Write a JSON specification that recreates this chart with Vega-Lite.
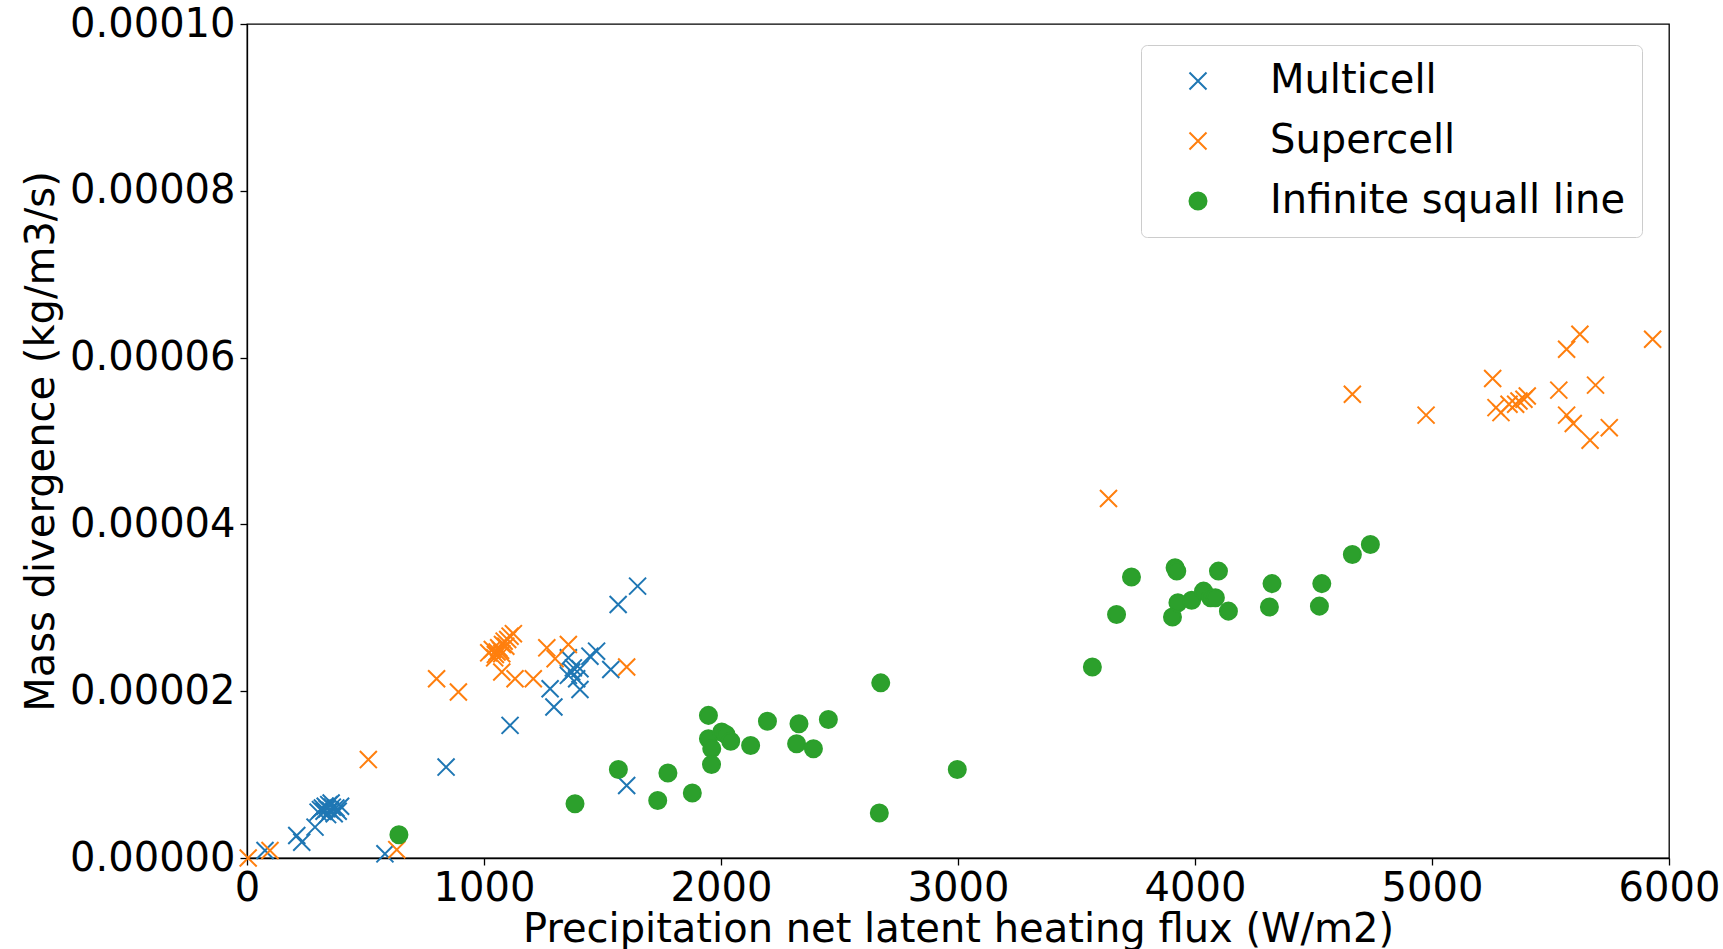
{
  "$schema": "https://vega.github.io/schema/vega-lite/v6.json",
  "width": 1422,
  "height": 834,
  "autosize": {"type": "none"},
  "padding": {"left": 247, "top": 24, "right": 54, "bottom": 91},
  "background": "white",
  "config": {
    "font": "DejaVu Sans",
    "view": {"stroke": "black", "strokeWidth": 1.3},
    "axis": {
      "grid": false,
      "domainColor": "black",
      "domainWidth": 1.3,
      "tickColor": "black",
      "tickSize": 7,
      "tickWidth": 1.3,
      "labelFont": "DejaVu Sans",
      "labelFontSize": 40,
      "labelColor": "black",
      "titleFont": "DejaVu Sans",
      "titleFontSize": 40,
      "titleFontWeight": "normal",
      "titleColor": "black"
    }
  },
  "data": {
    "values": [
      {"type": "Multicell", "flux": 76, "div": 9e-7},
      {"type": "Multicell", "flux": 210, "div": 2.7e-6},
      {"type": "Multicell", "flux": 231, "div": 1.9e-6},
      {"type": "Multicell", "flux": 287, "div": 3.7e-6},
      {"type": "Multicell", "flux": 300, "div": 5.5e-6},
      {"type": "Multicell", "flux": 310, "div": 5.8e-6},
      {"type": "Multicell", "flux": 318, "div": 6.0e-6},
      {"type": "Multicell", "flux": 325, "div": 5.6e-6},
      {"type": "Multicell", "flux": 330, "div": 6.2e-6},
      {"type": "Multicell", "flux": 338, "div": 5.9e-6},
      {"type": "Multicell", "flux": 340, "div": 5.2e-6},
      {"type": "Multicell", "flux": 345, "div": 6.4e-6},
      {"type": "Multicell", "flux": 352, "div": 5.7e-6},
      {"type": "Multicell", "flux": 355, "div": 6.6e-6},
      {"type": "Multicell", "flux": 360, "div": 6.1e-6},
      {"type": "Multicell", "flux": 368, "div": 5.3e-6},
      {"type": "Multicell", "flux": 375, "div": 6.0e-6},
      {"type": "Multicell", "flux": 385, "div": 5.6e-6},
      {"type": "Multicell", "flux": 395, "div": 6.2e-6},
      {"type": "Multicell", "flux": 582, "div": 5e-7},
      {"type": "Multicell", "flux": 840, "div": 1.09e-5},
      {"type": "Multicell", "flux": 1110, "div": 1.59e-5},
      {"type": "Multicell", "flux": 1295, "div": 1.81e-5},
      {"type": "Multicell", "flux": 1279, "div": 2.03e-5},
      {"type": "Multicell", "flux": 1405, "div": 2.02e-5},
      {"type": "Multicell", "flux": 1356, "div": 2.40e-5},
      {"type": "Multicell", "flux": 1377, "div": 2.28e-5},
      {"type": "Multicell", "flux": 1405, "div": 2.27e-5},
      {"type": "Multicell", "flux": 1356, "div": 2.19e-5},
      {"type": "Multicell", "flux": 1370, "div": 2.23e-5},
      {"type": "Multicell", "flux": 1391, "div": 2.15e-5},
      {"type": "Multicell", "flux": 1447, "div": 2.42e-5},
      {"type": "Multicell", "flux": 1475, "div": 2.48e-5},
      {"type": "Multicell", "flux": 1535, "div": 2.26e-5},
      {"type": "Multicell", "flux": 1602, "div": 8.7e-6},
      {"type": "Multicell", "flux": 1566, "div": 3.04e-5},
      {"type": "Multicell", "flux": 1648, "div": 3.26e-5},
      {"type": "Supercell", "flux": 5, "div": 0},
      {"type": "Supercell", "flux": 97, "div": 9e-7},
      {"type": "Supercell", "flux": 512, "div": 1.18e-5},
      {"type": "Supercell", "flux": 632, "div": 1.0e-6},
      {"type": "Supercell", "flux": 800, "div": 2.15e-5},
      {"type": "Supercell", "flux": 892, "div": 1.99e-5},
      {"type": "Supercell", "flux": 1020, "div": 2.46e-5},
      {"type": "Supercell", "flux": 1035, "div": 2.50e-5},
      {"type": "Supercell", "flux": 1045, "div": 2.40e-5},
      {"type": "Supercell", "flux": 1048, "div": 2.44e-5},
      {"type": "Supercell", "flux": 1055, "div": 2.47e-5},
      {"type": "Supercell", "flux": 1062, "div": 2.52e-5},
      {"type": "Supercell", "flux": 1070, "div": 2.49e-5},
      {"type": "Supercell", "flux": 1075, "div": 2.45e-5},
      {"type": "Supercell", "flux": 1078, "div": 2.56e-5},
      {"type": "Supercell", "flux": 1085, "div": 2.60e-5},
      {"type": "Supercell", "flux": 1092, "div": 2.54e-5},
      {"type": "Supercell", "flux": 1100, "div": 2.62e-5},
      {"type": "Supercell", "flux": 1110, "div": 2.66e-5},
      {"type": "Supercell", "flux": 1124, "div": 2.69e-5},
      {"type": "Supercell", "flux": 1075, "div": 2.23e-5},
      {"type": "Supercell", "flux": 1131, "div": 2.15e-5},
      {"type": "Supercell", "flux": 1208, "div": 2.15e-5},
      {"type": "Supercell", "flux": 1265, "div": 2.52e-5},
      {"type": "Supercell", "flux": 1300, "div": 2.39e-5},
      {"type": "Supercell", "flux": 1356, "div": 2.56e-5},
      {"type": "Supercell", "flux": 1602, "div": 2.29e-5},
      {"type": "Supercell", "flux": 3635, "div": 4.31e-5},
      {"type": "Supercell", "flux": 4664, "div": 5.56e-5},
      {"type": "Supercell", "flux": 4975, "div": 5.31e-5},
      {"type": "Supercell", "flux": 5256, "div": 5.75e-5},
      {"type": "Supercell", "flux": 5270, "div": 5.40e-5},
      {"type": "Supercell", "flux": 5291, "div": 5.34e-5},
      {"type": "Supercell", "flux": 5325, "div": 5.44e-5},
      {"type": "Supercell", "flux": 5353, "div": 5.44e-5},
      {"type": "Supercell", "flux": 5367, "div": 5.48e-5},
      {"type": "Supercell", "flux": 5388, "div": 5.50e-5},
      {"type": "Supercell", "flux": 5402, "div": 5.54e-5},
      {"type": "Supercell", "flux": 5535, "div": 5.61e-5},
      {"type": "Supercell", "flux": 5568, "div": 6.10e-5},
      {"type": "Supercell", "flux": 5624, "div": 6.28e-5},
      {"type": "Supercell", "flux": 5568, "div": 5.31e-5},
      {"type": "Supercell", "flux": 5596, "div": 5.21e-5},
      {"type": "Supercell", "flux": 5667, "div": 5.01e-5},
      {"type": "Supercell", "flux": 5690, "div": 5.67e-5},
      {"type": "Supercell", "flux": 5748, "div": 5.16e-5},
      {"type": "Supercell", "flux": 5931, "div": 6.22e-5},
      {"type": "Infinite squall line", "flux": 641, "div": 2.8e-6},
      {"type": "Infinite squall line", "flux": 1384, "div": 6.5e-6},
      {"type": "Infinite squall line", "flux": 1567, "div": 1.06e-5},
      {"type": "Infinite squall line", "flux": 1733, "div": 6.9e-6},
      {"type": "Infinite squall line", "flux": 1776, "div": 1.02e-5},
      {"type": "Infinite squall line", "flux": 1879, "div": 7.8e-6},
      {"type": "Infinite squall line", "flux": 1947, "div": 1.71e-5},
      {"type": "Infinite squall line", "flux": 1947, "div": 1.43e-5},
      {"type": "Infinite squall line", "flux": 1961, "div": 1.31e-5},
      {"type": "Infinite squall line", "flux": 1960, "div": 1.12e-5},
      {"type": "Infinite squall line", "flux": 2003, "div": 1.51e-5},
      {"type": "Infinite squall line", "flux": 2021, "div": 1.48e-5},
      {"type": "Infinite squall line", "flux": 2041, "div": 1.40e-5},
      {"type": "Infinite squall line", "flux": 2125, "div": 1.35e-5},
      {"type": "Infinite squall line", "flux": 2196, "div": 1.64e-5},
      {"type": "Infinite squall line", "flux": 2319, "div": 1.37e-5},
      {"type": "Infinite squall line", "flux": 2329, "div": 1.61e-5},
      {"type": "Infinite squall line", "flux": 2390, "div": 1.31e-5},
      {"type": "Infinite squall line", "flux": 2453, "div": 1.66e-5},
      {"type": "Infinite squall line", "flux": 2668, "div": 5.4e-6},
      {"type": "Infinite squall line", "flux": 2674, "div": 2.10e-5},
      {"type": "Infinite squall line", "flux": 2997, "div": 1.06e-5},
      {"type": "Infinite squall line", "flux": 3567, "div": 2.29e-5},
      {"type": "Infinite squall line", "flux": 3669, "div": 2.92e-5},
      {"type": "Infinite squall line", "flux": 3732, "div": 3.37e-5},
      {"type": "Infinite squall line", "flux": 3905, "div": 2.89e-5},
      {"type": "Infinite squall line", "flux": 3916, "div": 3.48e-5},
      {"type": "Infinite squall line", "flux": 3923, "div": 3.44e-5},
      {"type": "Infinite squall line", "flux": 3928, "div": 3.06e-5},
      {"type": "Infinite squall line", "flux": 3986, "div": 3.09e-5},
      {"type": "Infinite squall line", "flux": 4036, "div": 3.20e-5},
      {"type": "Infinite squall line", "flux": 4066, "div": 3.12e-5},
      {"type": "Infinite squall line", "flux": 4086, "div": 3.12e-5},
      {"type": "Infinite squall line", "flux": 4099, "div": 3.44e-5},
      {"type": "Infinite squall line", "flux": 4141, "div": 2.96e-5},
      {"type": "Infinite squall line", "flux": 4314, "div": 3.01e-5},
      {"type": "Infinite squall line", "flux": 4325, "div": 3.29e-5},
      {"type": "Infinite squall line", "flux": 4525, "div": 3.02e-5},
      {"type": "Infinite squall line", "flux": 4535, "div": 3.29e-5},
      {"type": "Infinite squall line", "flux": 4664, "div": 3.64e-5},
      {"type": "Infinite squall line", "flux": 4740, "div": 3.76e-5}
    ]
  },
  "mark": {"type": "point", "filled": true, "strokeWidth": 2, "opacity": 1},
  "encoding": {
    "x": {
      "field": "flux",
      "type": "quantitative",
      "scale": {"domain": [0, 6000], "nice": false, "zero": false},
      "axis": {
        "title": "Precipitation net latent heating flux (W/m2)",
        "values": [0, 1000, 2000, 3000, 4000, 5000, 6000],
        "format": "d",
        "labelPadding": 3,
        "titlePadding": 1,
        "labelFlush": false
      }
    },
    "y": {
      "field": "div",
      "type": "quantitative",
      "scale": {"domain": [0, 0.0001], "nice": false},
      "axis": {
        "title": "Mass divergence (kg/m3/s)",
        "values": [0, 0.00002, 0.00004, 0.00006, 0.00008, 0.0001],
        "format": ".5f",
        "labelPadding": 5,
        "titlePadding": 8,
        "labelFlush": false
      }
    },
    "color": {
      "field": "type",
      "type": "nominal",
      "scale": {
        "domain": ["Multicell", "Supercell", "Infinite squall line"],
        "range": ["#1f77b4", "#ff7f0e", "#2ca02c"]
      },
      "legend": {
        "orient": "none",
        "legendX": 894,
        "legendY": 21,
        "title": null,
        "labelFontSize": 40,
        "labelFont": "DejaVu Sans",
        "labelColor": "black",
        "labelLimit": 0,
        "fillColor": "white",
        "strokeColor": "#cccccc",
        "cornerRadius": 6,
        "padding": 16,
        "rowPadding": 20,
        "symbolOffset": 21,
        "labelOffset": 52,
        "symbolStrokeWidth": 2
      }
    },
    "stroke": {
      "field": "type",
      "type": "nominal",
      "scale": {
        "domain": ["Multicell", "Supercell", "Infinite squall line"],
        "range": ["#1f77b4", "#ff7f0e", "#2ca02c"]
      }
    },
    "shape": {
      "field": "type",
      "type": "nominal",
      "scale": {
        "domain": ["Multicell", "Supercell", "Infinite squall line"],
        "range": ["M-1,-1L1,1M-1,1L1,-1", "M-1,-1L1,1M-1,1L1,-1", "circle"]
      }
    },
    "size": {
      "field": "type",
      "type": "nominal",
      "scale": {
        "domain": ["Multicell", "Supercell", "Infinite squall line"],
        "range": [290, 290, 150]
      }
    }
  }
}
